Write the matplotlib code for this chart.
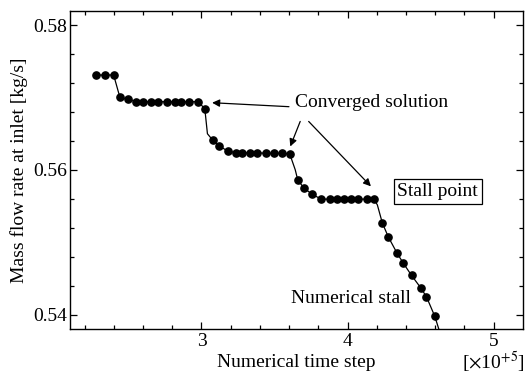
import numpy as np
import matplotlib.pyplot as plt

plt.rcParams['font.family'] = ['Liberation Serif', 'DejaVu Serif']
plt.rcParams['mathtext.fontset'] = 'stix'

# numerical time step [x1e5] and inlet mass flow rate [kg/s]
step = [2.278, 2.340, 2.399, 2.442, 2.499,
        2.552, 2.597, 2.658, 2.704, 2.764, 2.818, 2.861, 2.918, 2.977,
        3.023, 3.041, 3.079, 3.118, 3.179,
        3.237, 3.280, 3.329, 3.383, 3.439, 3.500, 3.551, 3.604,
        3.642, 3.659, 3.700, 3.756,
        3.820, 3.881, 3.927, 3.973, 4.021, 4.071, 4.130, 4.180,
        4.204, 4.238, 4.279, 4.339, 4.382, 4.438, 4.500, 4.540, 4.597, 4.631]
flow = [0.57313, 0.57313, 0.57313, 0.57003, 0.56976,
        0.56944, 0.56944, 0.56944, 0.56944, 0.56944, 0.56944, 0.56944, 0.56944, 0.56944,
        0.56847, 0.56501, 0.56408, 0.56338, 0.56262,
        0.56238, 0.56238, 0.56238, 0.56238, 0.56231, 0.56231, 0.56231, 0.56224,
        0.56003, 0.55864, 0.55754, 0.55666,
        0.55597, 0.55597, 0.55597, 0.55597, 0.55597, 0.55597, 0.55597, 0.55597,
        0.55518, 0.55269, 0.55075, 0.54850, 0.54711, 0.54543, 0.54374, 0.54248, 0.53979, 0.53761]
# intermediate line vertices that carry no marker
no_marker = [15, 27, 39, 48]
marked = [i for i in range(len(step)) if i not in no_marker]

fs = 14

fig = plt.figure(figsize=(5.26, 3.74), dpi=100)
ax = fig.add_axes([0.133, 0.120, 0.861, 0.851])

ax.plot(step, flow, color='black', lw=0.9, marker='o', ms=5.2,
        markevery=marked, zorder=3)

ax.set_xlim(2.1, 5.2)
ax.set_ylim(0.538, 0.582)
ax.set_xticks([3, 4, 5])
ax.set_xticklabels(['3', '4', '5'])
ax.set_xticks(np.arange(2.2, 5.2, 0.2), minor=True)
ax.set_yticks([0.54, 0.56, 0.58])
ax.set_yticklabels(['0.54', '0.56', '0.58'])
ax.set_yticks(np.arange(0.54, 0.582, 0.004), minor=True)
ax.tick_params(which='both', direction='in', top=True, right=True,
               labelsize=fs, width=0.9)
ax.tick_params(which='major', length=5, pad=2)
ax.tick_params(axis='x', which='major', pad=3)
ax.tick_params(which='minor', length=3)
for s in ax.spines.values():
    s.set_linewidth(1.0)

ax.set_xlabel('Numerical time step', fontsize=fs, labelpad=3)
ax.set_ylabel('Mass flow rate at inlet [kg/s]', fontsize=fs, labelpad=4)
fig.text(0.998, 0.011, r'[$\times$10$^{+5}$]', fontsize=fs, ha='right', va='baseline')

ax.text(4.165, 0.5693, 'Converged solution', fontsize=fs, ha='center', va='center')
arrow = dict(arrowstyle='-|>', color='black', lw=0.9, mutation_scale=11,
             shrinkA=0, shrinkB=0)
ax.annotate('', xy=(3.073, 0.5693), xytext=(3.599, 0.56875), arrowprops=arrow)
ax.annotate('', xy=(3.608, 0.56325), xytext=(3.676, 0.56671), arrowprops=arrow)
ax.annotate('', xy=(4.160, 0.55774), xytext=(3.734, 0.56671), arrowprops=arrow)

ax.text(4.618, 0.55698, 'Stall point', fontsize=fs, ha='center', va='center',
        bbox=dict(boxstyle='square,pad=0.2', fc='white', ec='black', lw=0.9))
ax.text(4.021, 0.54217, 'Numerical stall', fontsize=fs, ha='center', va='center')

fig.savefig('out.png', dpi=100)
